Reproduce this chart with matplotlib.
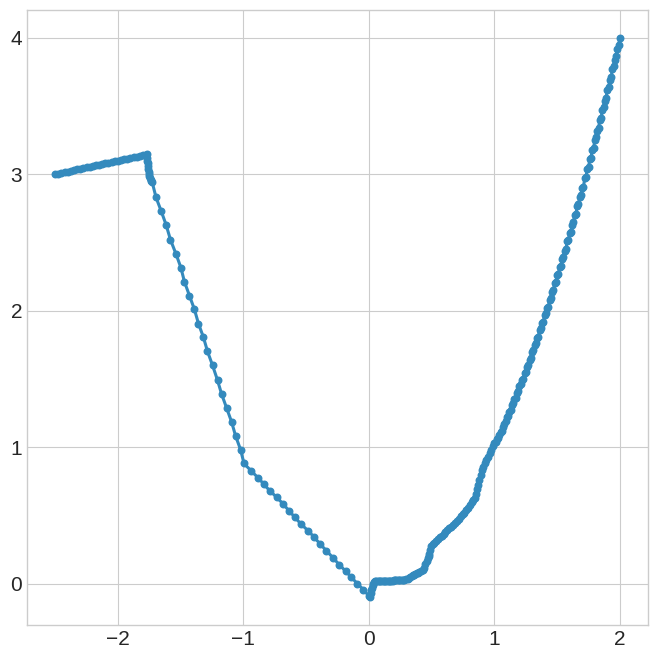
import matplotlib
matplotlib.use("Agg")
import matplotlib.pyplot as plt

# path
seg_top_x = [-2.500, -2.475, -2.450, -2.425, -2.400, -2.375, -2.350, -2.325, -2.300, -2.275,
             -2.250, -2.225, -2.200, -2.175, -2.150, -2.125, -2.100, -2.075, -2.050, -2.025,
             -2.000, -1.975, -1.950, -1.925, -1.900, -1.875, -1.850, -1.825, -1.800, -1.775,
             -1.768]
seg_top_y = [3.000, 3.005, 3.010, 3.015, 3.020, 3.025, 3.030, 3.035, 3.040, 3.045,
             3.050, 3.055, 3.060, 3.065, 3.070, 3.075, 3.080, 3.085, 3.089, 3.094,
             3.099, 3.104, 3.109, 3.114, 3.119, 3.124, 3.129, 3.134, 3.139, 3.144,
             3.145]

corner_x = [-1.767, -1.765, -1.762, -1.760, -1.757, -1.755, -1.752, -1.750, -1.745, -1.740,
            -1.733, -1.726]
corner_y = [3.12, 3.10, 3.08, 3.06, 3.04, 3.02, 3.00, 2.99, 2.975, 2.96,
            2.95, 2.94]

descent_x = [-1.696, -1.656, -1.616, -1.581, -1.538, -1.498, -1.470, -1.430, -1.390,
             -1.358, -1.318, -1.286, -1.246, -1.206, -1.174, -1.134, -1.094, -1.062,
             -1.022, -0.995]
descent_y = [2.83, 2.733, 2.63, 2.52, 2.418, 2.316, 2.213, 2.111, 2.009,
             1.906, 1.804, 1.702, 1.60, 1.49, 1.39, 1.287, 1.185, 1.082,
             0.98, 0.880]

slope_x = [-0.936, -0.885, -0.837, -0.790, -0.736, -0.685, -0.637, -0.592, -0.539,
           -0.485, -0.437, -0.389, -0.339, -0.285, -0.237, -0.184, -0.139, -0.091,
           -0.043, 0.002]
slope_y = [0.824, 0.777, 0.729, 0.680, 0.634, 0.585, 0.534, 0.488, 0.434,
           0.388, 0.341, 0.290, 0.241, 0.188, 0.139, 0.090, 0.046, -0.002,
           -0.046, -0.093]

bottom_x = [0.010, 0.015, 0.020, 0.025, 0.030, 0.035, 0.040, 0.048, 0.06, 0.07, 0.08,
            0.09, 0.10, 0.11, 0.12, 0.13, 0.14, 0.15, 0.16, 0.17, 0.18, 0.19, 0.20,
            0.21, 0.22, 0.23, 0.24, 0.25, 0.26, 0.27, 0.28, 0.296, 0.31, 0.32, 0.33,
            0.34, 0.35, 0.36, 0.37, 0.38, 0.39, 0.40, 0.415, 0.43, 0.44, 0.45, 0.46,
            0.47, 0.475, 0.48, 0.488, 0.496, 0.51, 0.52, 0.535, 0.55, 0.565, 0.58,
            0.595, 0.61, 0.625, 0.64, 0.655, 0.67, 0.685, 0.70, 0.718, 0.736, 0.75,
            0.76, 0.775, 0.79, 0.805, 0.82, 0.832, 0.843, 0.85, 0.86, 0.87, 0.88,
            0.89, 0.90, 0.912, 0.923, 0.937, 0.95, 0.962, 0.975, 0.988, 1.00]
bottom_y = [-0.097, -0.07, -0.05, -0.03, -0.01, 0.00, 0.01, 0.017, 0.019, 0.020, 0.020,
            0.020, 0.020, 0.020, 0.021, 0.021, 0.021, 0.021, 0.021, 0.021, 0.022, 0.022, 0.024,
            0.025, 0.026, 0.027, 0.027, 0.028, 0.028, 0.029, 0.029, 0.030, 0.036, 0.042, 0.048,
            0.054, 0.060, 0.065, 0.070, 0.075, 0.079, 0.083, 0.090, 0.097, 0.115, 0.14, 0.165,
            0.19, 0.205, 0.22, 0.245, 0.273, 0.287, 0.30, 0.312, 0.325, 0.338, 0.35,
            0.365, 0.38, 0.393, 0.405, 0.418, 0.43, 0.445, 0.46, 0.476, 0.492, 0.507,
            0.52, 0.537, 0.555, 0.575, 0.595, 0.61, 0.627, 0.66, 0.69, 0.725, 0.76,
            0.795, 0.83, 0.856, 0.882, 0.905, 0.93, 0.955, 0.98, 1.005, 1.03]

right_x = [1.01, 1.02, 1.03, 1.04, 1.05, 1.06, 1.07, 1.08, 1.09, 1.10,
           1.11, 1.12, 1.13, 1.14, 1.15, 1.16, 1.17, 1.18, 1.19, 1.20,
           1.21, 1.22, 1.23, 1.24, 1.25, 1.26, 1.27, 1.28, 1.29, 1.30,
           1.31, 1.32, 1.33, 1.34, 1.35, 1.36, 1.37, 1.38, 1.39, 1.40,
           1.41, 1.42, 1.43, 1.44, 1.45, 1.46, 1.47, 1.48, 1.49, 1.50,
           1.51, 1.52, 1.53, 1.54, 1.55, 1.56, 1.57, 1.58, 1.59, 1.60,
           1.61, 1.62, 1.63, 1.64, 1.65, 1.66, 1.67, 1.68, 1.69, 1.70,
           1.71, 1.72, 1.73, 1.74, 1.75, 1.76, 1.77, 1.78, 1.79, 1.80,
           1.81, 1.82, 1.83, 1.84, 1.85, 1.86, 1.87, 1.88, 1.89, 1.90,
           1.91, 1.92, 1.93, 1.94, 1.95, 1.96, 1.97, 1.98, 1.99, 2.00]
right_y = [1.04, 1.06, 1.07, 1.09, 1.11, 1.12, 1.15, 1.17, 1.19, 1.22,
           1.23, 1.26, 1.27, 1.31, 1.32, 1.35, 1.36, 1.40, 1.41, 1.45,
           1.46, 1.49, 1.50, 1.54, 1.55, 1.59, 1.60, 1.64, 1.65, 1.70,
           1.71, 1.75, 1.76, 1.80, 1.81, 1.86, 1.87, 1.91, 1.92, 1.97,
           1.98, 2.02, 2.03, 2.08, 2.09, 2.14, 2.15, 2.20, 2.21, 2.26,
           2.27, 2.32, 2.33, 2.38, 2.39, 2.44, 2.45, 2.51, 2.52, 2.57,
           2.58, 2.63, 2.65, 2.70, 2.71, 2.77, 2.78, 2.83, 2.85, 2.90,
           2.91, 2.97, 2.98, 3.04, 3.05, 3.11, 3.12, 3.18, 3.19, 3.25,
           3.27, 3.32, 3.34, 3.40, 3.41, 3.47, 3.49, 3.54, 3.56, 3.62,
           3.64, 3.69, 3.71, 3.77, 3.79, 3.84, 3.87, 3.92, 3.95, 4.00]

xs = seg_top_x + corner_x + descent_x + slope_x + bottom_x + right_x
ys = seg_top_y + corner_y + descent_y + slope_y + bottom_y + right_y

plt.style.use("seaborn-v0_8-whitegrid")
plt.rcParams["font.family"] = ["Liberation Sans", "DejaVu Sans"]

fig = plt.figure(figsize=(6.56, 6.59), dpi=100)
ax = fig.add_axes([0.041, 0.052, 0.947, 0.933])
ax.plot(xs, ys, color="#348ABD", linewidth=2.2, marker="o", markersize=4.7)
ax.tick_params(labelsize=15)
for s in ax.spines.values():
    s.set_visible(True)
    s.set_color("#cccccc")

fig.savefig("out.png")
